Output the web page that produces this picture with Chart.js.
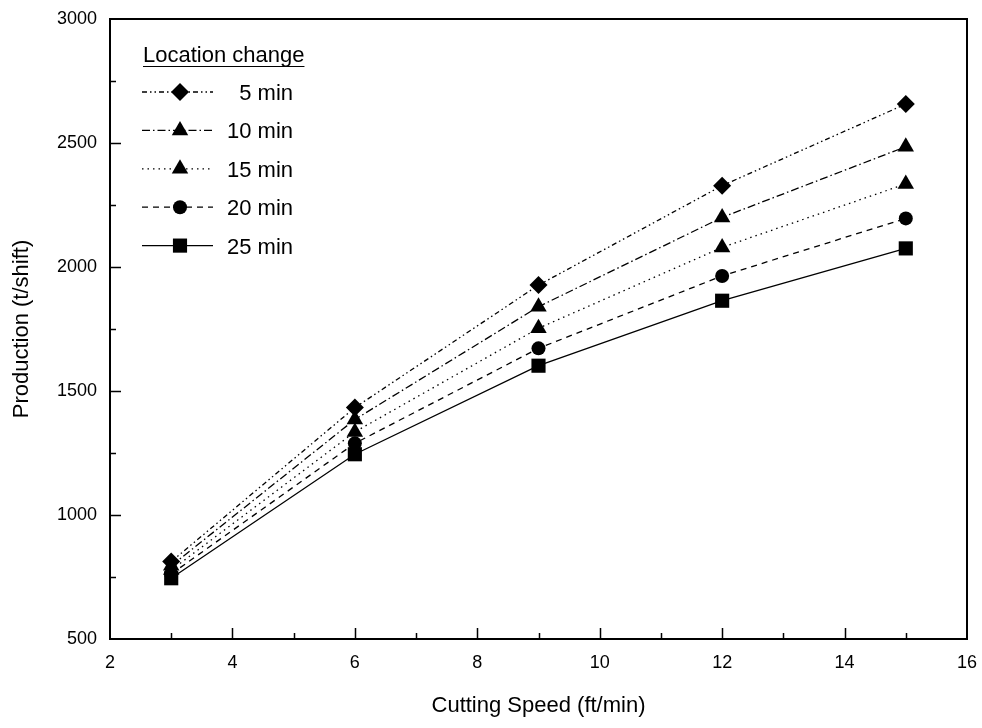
<!DOCTYPE html>
<html>
<head>
<meta charset="utf-8">
<title>Production vs cutting speed</title>
<script src="https://cdn.jsdelivr.net/npm/chart.js@4/dist/chart.umd.min.js"></script>
<style>
  html, body { margin: 0; padding: 0; background: #fff; }
  #wrap { width: 982px; height: 728px; }
</style>
</head>
<body>
<div id="wrap"><canvas id="myChart" width="982" height="728"></canvas></div>
<script>
// cutting speed (ft/min) and production (t/shift) per location change time
const speeds = [3, 6, 9, 12, 15];
const prod5 = [812, 1433, 1927, 2328, 2657];
const prod10 = [795, 1385, 1840, 2200, 2485];
const prod15 = [778, 1335, 1753, 2079, 2335];
const prod20 = [762, 1289, 1672, 1964, 2196];
const prod25 = [745, 1245, 1602, 1864, 2075];

const seriesLabels = ["5 min", "10 min", "15 min", "20 min", "25 min"];
const xTicks = [2, 4, 6, 8, 10, 12, 14, 16];
const yTicks = [500, 1000, 1500, 2000, 2500, 3000];

const FONT = "'Liberation Sans', Arial, sans-serif";

const styles = [
  { dash: [5, 3, 1.5, 3, 1.5, 3], point: "rectRot", radius: 9 },
  { dash: [8, 3, 1.5, 3], point: "triangle", radius: 9.5 },
  { dash: [1.5, 4], point: "triangle", radius: 9.5 },
  { dash: [6, 5], point: "circle", radius: 7 },
  { dash: [], point: "rect", radius: 10 },
];

function toPoints(values) {
  return speeds.map((s, i) => ({ x: s, y: values[i] }));
}

const allSeries = [prod5, prod10, prod15, prod20, prod25];

const datasets = allSeries.map((vals, i) => ({
  label: seriesLabels[i],
  data: toPoints(vals),
  borderColor: "#000",
  borderWidth: 1.3,
  borderDash: styles[i].dash,
  backgroundColor: "#000",
  pointStyle: styles[i].point,
  pointRadius: styles[i].radius,
  pointBackgroundColor: "#000",
  pointBorderWidth: 0,
  pointHoverRadius: styles[i].radius,
  tension: 0,
  clip: false,
}));

function markPoint(ctx, style, radius, x, y) {
  if (window.Chart && Chart.helpers && Chart.helpers.drawPoint) {
    Chart.helpers.drawPoint(ctx, { pointStyle: style, radius: radius, rotation: 0, borderWidth: 0 }, x, y);
    return;
  }
  ctx.beginPath();
  ctx.arc(x, y, radius, 0, Math.PI * 2);
  ctx.fill();
}

// frame, inward tick marks and the legend box in the upper left
const framePlugin = {
  id: "frame",
  afterDraw(chart) {
    const { ctx, chartArea: a, scales } = chart;
    ctx.save();
    ctx.strokeStyle = "#000";
    ctx.fillStyle = "#000";

    // tick marks pointing into the plot
    ctx.lineWidth = 1.5;
    ctx.setLineDash([]);
    ctx.beginPath();
    for (let v = 3; v < 16; v++) {
      const px = Math.round(scales.x.getPixelForValue(v)) + 0.5;
      const len = v % 2 === 0 ? 11 : 6;
      ctx.moveTo(px, a.bottom);
      ctx.lineTo(px, a.bottom - len);
    }
    for (let v = 750; v < 3000; v += 250) {
      const py = Math.round(scales.y.getPixelForValue(v)) + 0.5;
      const len = v % 500 === 0 ? 11 : 6;
      ctx.moveTo(a.left, py);
      ctx.lineTo(a.left + len, py);
    }
    ctx.stroke();

    // box round the plot
    ctx.lineWidth = 2;
    ctx.strokeRect(a.left, a.top, a.right - a.left, a.bottom - a.top);

    // legend
    ctx.font = "22px " + FONT;
    ctx.textBaseline = "alphabetic";
    ctx.textAlign = "left";
    const title = "Location change";
    ctx.fillText(title, 143, 62);
    const tw = ctx.measureText(title).width;
    ctx.lineWidth = 1.2;
    ctx.beginPath();
    ctx.moveTo(143, 66.5);
    ctx.lineTo(143 + tw, 66.5);
    ctx.stroke();

    chart.data.datasets.forEach((ds, i) => {
      const cy = 92 + i * 38.4;
      ctx.lineWidth = 1.3;
      ctx.setLineDash(ds.borderDash || []);
      ctx.beginPath();
      ctx.moveTo(142, cy);
      ctx.lineTo(213, cy);
      ctx.stroke();
      ctx.setLineDash([]);
      markPoint(ctx, ds.pointStyle, ds.pointRadius, 180, cy);
      ctx.textAlign = "right";
      ctx.fillText(ds.label, 293, cy + 8);
    });
    ctx.restore();
  },
};

new Chart(document.getElementById("myChart"), {
  type: "line",
  data: { datasets: datasets },
  options: {
    responsive: false,
    animation: false,
    events: [],
    layout: { padding: { top: 19, right: 15, left: 0, bottom: 0 } },
    plugins: {
      legend: { display: false },
      tooltip: { enabled: false },
    },
    scales: {
      x: {
        type: "linear",
        min: 2,
        max: 16,
        afterBuildTicks: (scale) => {
          scale.ticks = xTicks.map((v) => ({ value: v }));
        },
        afterFit: (scale) => {
          scale.height = 89;
          scale.paddingRight = 0;
          scale.paddingLeft = 0;
        },
        grid: { display: false, drawTicks: false },
        border: { display: false },
        ticks: {
          color: "#000",
          padding: 13,
          maxRotation: 0,
          callback: (v) => String(v),
          font: { family: FONT, size: 18 },
        },
        title: {
          display: true,
          text: "Cutting Speed (ft/min)",
          color: "#000",
          padding: { top: 6, bottom: 9 },
          font: { family: FONT, size: 22 },
        },
      },
      y: {
        type: "linear",
        min: 500,
        max: 3000,
        afterBuildTicks: (scale) => {
          scale.ticks = yTicks.map((v) => ({ value: v }));
        },
        afterFit: (scale) => {
          scale.width = 110;
          scale.paddingTop = 0;
          scale.paddingBottom = 0;
        },
        grid: { display: false, drawTicks: false },
        border: { display: false },
        ticks: {
          color: "#000",
          padding: 13,
          callback: (v) => String(v),
          font: { family: FONT, size: 18 },
        },
        title: {
          display: true,
          text: "Production (t/shift)",
          color: "#000",
          padding: { top: 9, bottom: 6 },
          font: { family: FONT, size: 22 },
        },
      },
    },
  },
  plugins: [framePlugin],
});
</script>
</body>
</html>
